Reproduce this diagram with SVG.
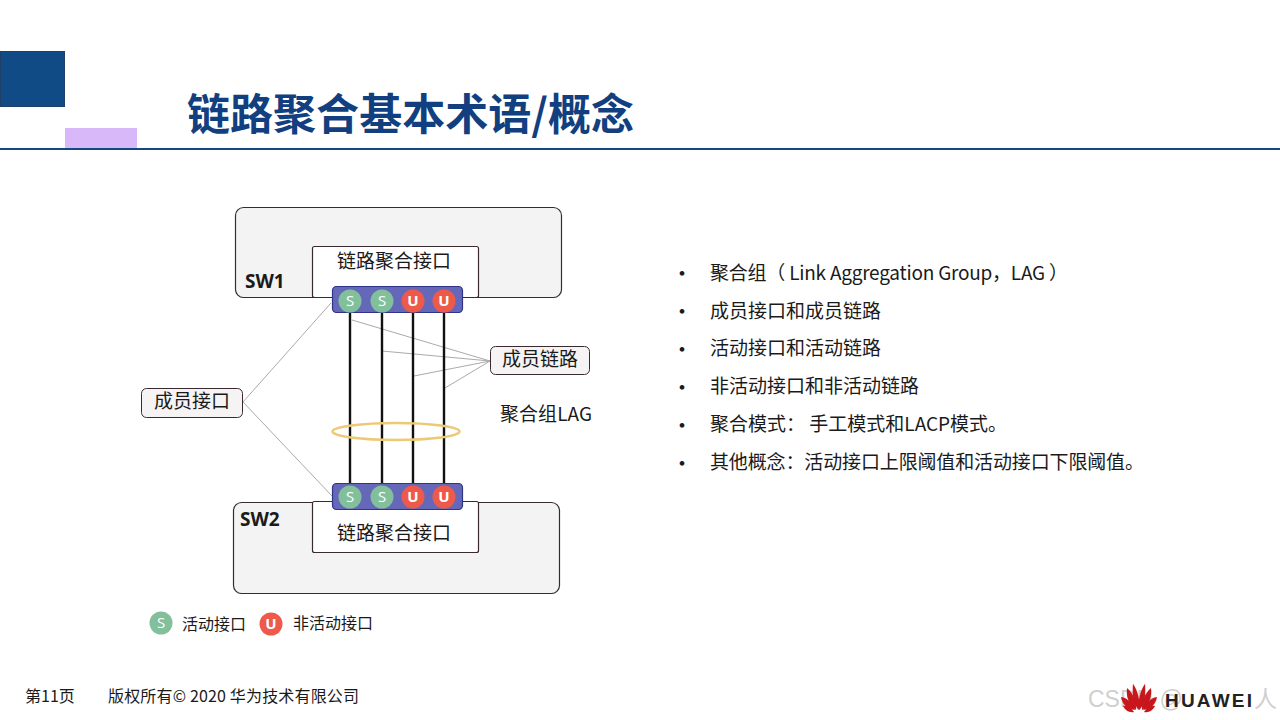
<svg xmlns="http://www.w3.org/2000/svg" width="1280" height="720" viewBox="0 0 1280 720">
<style>
text{font-family:"Noto Sans CJK SC","Noto Sans",sans-serif;fill:#1a1a1a}
.box{fill:#f3f3f3;stroke:#3a2a30;stroke-width:1.2}
.white{fill:#fff;stroke:#3a2a30;stroke-width:1.2}
.lbl{fill:#f5f3f3;stroke:#3a2a30;stroke-width:1}
.t19{font-size:19px}
.t18{font-size:19px;text-anchor:middle}
.sw{font-family:"Open Sans","Noto Sans",sans-serif;font-size:19px;font-weight:700}
.bar{fill:#6568b8;stroke:#2f3488;stroke-width:1.2}
.link{stroke:#111;stroke-width:2.4;fill:none}
.lead{stroke:#aaa;stroke-width:1;fill:none}
.s{fill:#82c09c}
.u{fill:#ee5a4a}
.pl{font-family:"Open Sans","Noto Sans",sans-serif;font-size:15px;text-anchor:middle;fill:#fff}
.pu{font-family:"Open Sans","Noto Sans",sans-serif;font-size:15px;font-weight:700;text-anchor:middle;fill:#fff}
.bullet{font-size:22px;text-anchor:middle}
.foot{font-size:16px}
.petal{fill:#c8161d}
</style>
<rect width="1280" height="720" fill="#fff"/>
<g id="header">
<rect x="0.5" y="51.5" width="64" height="55" fill="#114b85" stroke="#1f3f68"/>
<rect x="65" y="128" width="72" height="21" fill="#d9b8fa"/>
<rect x="0" y="148" width="1280" height="2" fill="#124a80"/>
<text x="187" y="130" font-size="43" font-weight="700" textLength="447" style="fill:#123f80">链路聚合基本术语/概念</text>
</g>
<g id="sw1">
<rect class="box" x="235.500" y="207.500" width="326" height="90" rx="8"/>
<text class="sw" x="245" y="288">SW1</text>
</g>
<g id="sw1-if">
<rect class="white" x="312.500" y="246.500" width="166" height="51" rx="2"/>
<text class="t18" x="394" y="268">链路聚合接口</text>
</g>
<g id="sw2">
<rect class="box" x="233.500" y="502.500" width="326" height="91" rx="8"/>
<text class="sw" x="240" y="526">SW2</text>
</g>
<g id="sw2-if">
<rect class="white" x="312.500" y="501.500" width="166" height="51" rx="2"/>
<text class="t18" x="394" y="540">链路聚合接口</text>
</g>
<g id="connectors">
<path class="lead" d="M243 402L331 303M243 402L332 496M490 361L352 320M490 361L382 351M490 361L414 376M490 361L445 388"/>
<path class="link" d="M350 312V484M382 312V484M413 312V484M444 312V484"/>
</g>
<g id="lag-ring">
<ellipse cx="396" cy="431.500" rx="63.500" ry="8.500" fill="none" stroke="#ecc974" stroke-width="2.500"/>
</g>
<g id="port-bar-top">
<rect class="bar" x="332.500" y="286.500" width="130" height="26" rx="4"/>
<circle class="s" cx="350" cy="301" r="11.500"/><text class="pl" x="350" y="306">S</text>
<circle class="s" cx="382" cy="301" r="11.500"/><text class="pl" x="382" y="306">S</text>
<circle class="u" cx="413" cy="301" r="11.500"/><text class="pu" x="413" y="306">U</text>
<circle class="u" cx="444" cy="301" r="11.500"/><text class="pu" x="444" y="306">U</text>
</g>
<g id="port-bar-bottom">
<rect class="bar" x="332.500" y="483.500" width="130" height="26" rx="4"/>
<circle class="s" cx="350" cy="497" r="11.500"/><text class="pl" x="350" y="502">S</text>
<circle class="s" cx="382" cy="497" r="11.500"/><text class="pl" x="382" y="502">S</text>
<circle class="u" cx="413" cy="497" r="11.500"/><text class="pu" x="413" y="502">U</text>
<circle class="u" cx="444" cy="497" r="11.500"/><text class="pu" x="444" y="502">U</text>
</g>
<g id="member-port">
<rect class="lbl" x="141.500" y="388.500" width="101" height="29" rx="5"/>
<text class="t18" x="192" y="408">成员接口</text>
</g>
<g id="member-link">
<rect class="lbl" x="490.500" y="346.500" width="99" height="28" rx="5"/>
<text class="t18" x="540" y="366">成员链路</text>
</g>
<g id="lag-label">
<text x="500" y="421" font-size="19" textLength="92">聚合组LAG</text>
</g>
<g id="legend">
<circle class="s" cx="161" cy="623" r="11.500"/><text class="pl" x="161" y="628">S</text>
<text x="182" y="630" font-size="16">活动接口</text>
<circle class="u" cx="271" cy="624" r="11.500"/><text class="pu" x="271" y="629">U</text>
<text x="293" y="629" font-size="16">非活动接口</text>
</g>
<g id="bullets">
<text class="bullet" x="682" y="281">•</text>
<text class="t19" x="710" y="280" textLength="358">聚合组（ Link Aggregation Group，LAG ）</text>
<text class="bullet" x="682" y="319">•</text>
<text class="t19" x="710" y="318">成员接口和成员链路</text>
<text class="bullet" x="682" y="357">•</text>
<text class="t19" x="710" y="355">活动接口和活动链路</text>
<text class="bullet" x="682" y="395">•</text>
<text class="t19" x="710" y="393">非活动接口和非活动链路</text>
<text class="bullet" x="682" y="433">•</text>
<text class="t19" x="710" y="431">聚合模式： 手工模式和LACP模式。</text>
<text class="bullet" x="682" y="471">•</text>
<text class="t19" x="710" y="469" textLength="434">其他概念：活动接口上限阈值和活动接口下限阈值。</text>
</g>
<g id="footer">
<text class="foot" x="25" y="702">第11页</text>
<text class="foot" x="108" y="702" textLength="251">版权所有© 2020 华为技术有限公司</text>
</g>
<g id="watermark">
<text x="1088" y="707" font-size="23" style="font-family:'Liberation Sans',sans-serif;fill:#cfcfcf">CSDN @</text>
<text x="1254" y="707" font-size="23" style="fill:#cfcfcf">人</text>
</g>
<g id="huawei-logo">
<g class="petal" transform="translate(1139 698)">
<path d="M-2 12C-7 4-6-6-4-15C0-8 1 4-2 12Z" transform="rotate(-8)"/>
<path d="M2 12C7 4 6-6 4-15C0-8-1 4 2 12Z" transform="rotate(8)"/>
<path d="M-3 12C-11 6-13-2-12-10C-6-5-2 4-3 12Z"/>
<path d="M3 12C11 6 13-2 12-10C6-5 2 4 3 12Z"/>
<path d="M-4 12C-12 11-17 6-18-1C-11 0-6 6-4 12Z"/>
<path d="M4 12C12 11 17 6 18-1C11 0 6 6 4 12Z"/>
<path d="M-5 14C-10 15-14 12-16 8C-11 7-8 10-5 14Z"/>
<path d="M5 14C10 15 14 12 16 8C11 7 8 10 5 14Z"/>
</g>
<text x="1165" y="707" font-size="19" font-weight="700" textLength="87" style="font-family:'Liberation Sans',sans-serif;fill:#222">HUAWEI</text>
</g>
</svg>
